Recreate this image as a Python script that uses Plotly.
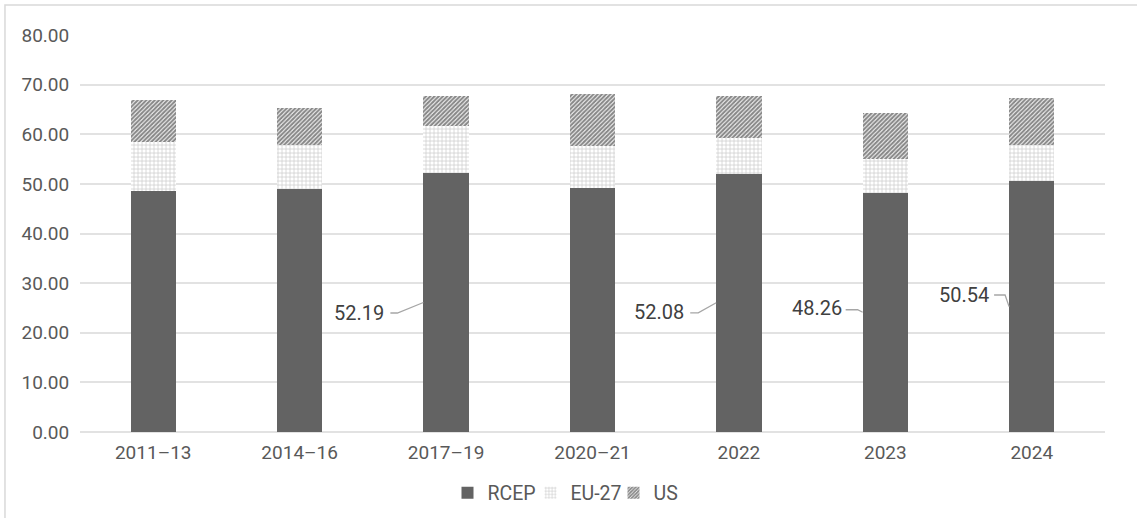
import plotly.graph_objects as go

# ---- data ----
categories = ["2011–13", "2014–16", "2017–19", "2020–21", "2022", "2023", "2024"]
rcep = [48.6, 49.0, 52.19, 49.2, 52.08, 48.26, 50.54]
eu27 = [9.9, 8.8, 9.5, 8.4, 7.1, 6.7, 7.3]
us = [8.4, 7.4, 6.0, 10.5, 8.6, 9.25, 9.4]
labelled_idx = [2, 4, 5, 6]
y_ticks = [0, 10, 20, 30, 40, 50, 60, 70, 80]

# ---- styling ----
FONT = "Roboto, Arial, sans-serif"
TICK_COLOR = "#595959"
GRID = "#E2E2E2"
BARGAP = 0.69
HALF_W = (1 - BARGAP) / 2
FS = 20
TFS = 19
# per-label leader style: (text right dx, text dy, knee dx, knee dy, end dx) in px
leader_style = {
    2: (-37, -10, -26, -10.5, -33),
    4: (-30, -9, -18, -10, -26),
    5: (-19, 4, -5, 2.5, -17),
    6: (-18, 11.6, -4, 11.6, -15),
}

fig = go.Figure()
fig.add_bar(
    x=categories, y=rcep, name="RCEP",
    marker=dict(color="#636363", line=dict(width=0)),
)
fig.add_bar(
    x=categories, y=eu27, name="EU-27",
    marker=dict(color="white", line=dict(width=0),
                pattern=dict(shape="+", size=4, solidity=0.35,
                             fgcolor="#9C9C9C", bgcolor="white")),
)
fig.add_bar(
    x=categories, y=us, name="US",
    marker=dict(color="white", line=dict(width=0),
                pattern=dict(shape="/", size=3, solidity=0.7,
                             fgcolor="#111111", bgcolor="white")),
)

annotations = []
shapes = []
for i in labelled_idx:
    tdx, tdy, kdx, kdy, edx = leader_style[i]
    xa = i - HALF_W
    ya = rcep[i] / 2
    annotations.append(dict(
        x=xa, y=ya, xref="x", yref="y", text=f"{rcep[i]:.2f}",
        showarrow=False, xanchor="right", yanchor="middle",
        xshift=tdx, yshift=tdy,
        font=dict(family=FONT, size=FS, color="#404040"),
    ))
    shapes.append(dict(
        type="path", xref="x", yref="y",
        xsizemode="pixel", ysizemode="pixel",
        xanchor=xa, yanchor=ya,
        path=f"M0,0 L{kdx},{kdy} L{edx},{kdy}",
        line=dict(color="#A6A6A6", width=1.3),
        layer="above",
    ))

# outer chart border
shapes.append(dict(
    type="rect", xref="paper", yref="paper",
    x0=-0.0732, x1=1.2, y0=-0.4, y1=1.0756,
    line=dict(color="#D9D9D9", width=1.5), layer="below",
))

fig.update_layout(
    barmode="stack",
    bargap=BARGAP,
    width=1137, height=518,
    margin=dict(l=80, r=32, t=35, b=86, autoexpand=False),
    paper_bgcolor="white",
    plot_bgcolor="white",
    font=dict(family=FONT, size=FS, color=TICK_COLOR),
    legend=dict(
        orientation="h", x=0.48, xanchor="center",
        yref="container", y=0.048, yanchor="middle",
        font=dict(family=FONT, size=19.5, color=TICK_COLOR),
        itemwidth=30, entrywidth=38, traceorder="normal",
    ),
    annotations=annotations,
    shapes=shapes,
    xaxis=dict(
        type="category", showgrid=False, showline=False, zeroline=False,
        automargin=False,
        ticks="outside", ticklen=3, tickcolor="rgba(0,0,0,0)",
        tickfont=dict(family=FONT, size=TFS, color=TICK_COLOR),
    ),
    yaxis=dict(
        range=[0, 80], tickvals=y_ticks, automargin=False,
        ticktext=[f"{v:.2f}" for v in y_ticks],
        showgrid=True, gridcolor=GRID, gridwidth=2,
        zeroline=True, zerolinecolor=GRID, zerolinewidth=2,
        showline=False,
        ticks="outside", ticklen=6, tickcolor="rgba(0,0,0,0)",
        tickfont=dict(family=FONT, size=TFS, color=TICK_COLOR),
    ),
)

fig.write_html("out.html")
